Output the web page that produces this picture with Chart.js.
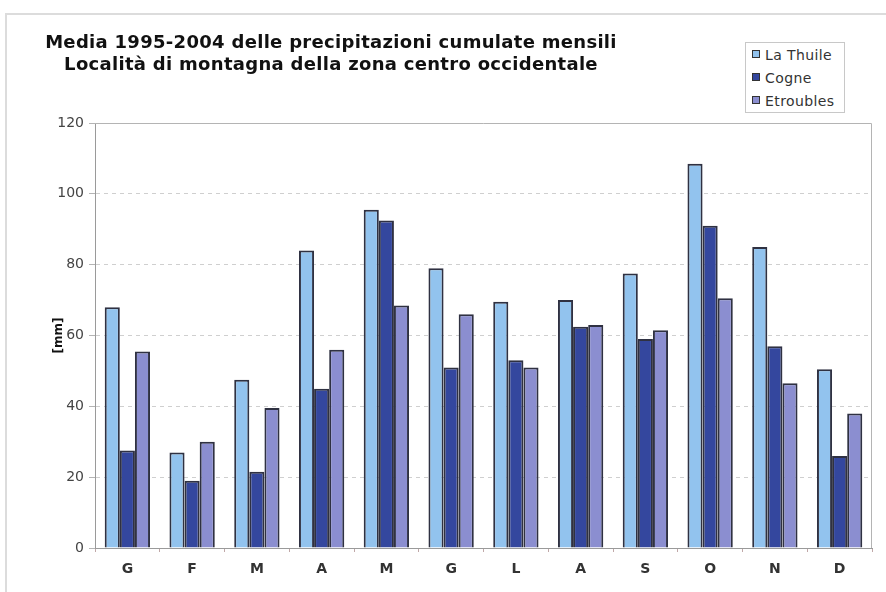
<!DOCTYPE html>
<html>
<head>
<meta charset="utf-8">
<script src="https://cdn.jsdelivr.net/npm/chart.js@4.4.0/dist/chart.umd.min.js"></script>
<style>
  body { margin: 0; background: #fff; }
  #wrap { position: relative; width: 886px; height: 592px; overflow: hidden; font-family: "DejaVu Sans", sans-serif; }
  #frame { position: absolute; left: 5px; top: 13px; width: 900px; height: 600px; border: 2px solid #dcdcdc; }
  #title { position: absolute; left: 31px; top: 31px; width: 600px; text-align: center; font-weight: bold; font-size: 18px; letter-spacing: 0.3px; line-height: 22px; color: #111; white-space: nowrap; }
  #legend { position: absolute; left: 745px; top: 42px; width: 98px; height: 69px; border: 1px solid #c8c8c8; background: #fff; font-size: 14px; letter-spacing: 0.4px; color: #333; }
  .item { position: absolute; left: 6px; height: 18px; line-height: 18px; white-space: nowrap; }
  .sw { display: inline-block; width: 6px; height: 6px; border: 1px solid #333; margin-right: 5px; vertical-align: 2px; }
  canvas { position: absolute; left: 0; top: 0; }
</style>
</head>
<body>
<div id="wrap">
  <div id="frame"></div>
  <canvas id="chart" width="886" height="592"></canvas>
  <div id="title">Media 1995-2004 delle precipitazioni cumulate mensili<br>Località di montagna della zona centro occidentale</div>
  <div id="legend"></div>
</div>
<script>
const months = ["G", "F", "M", "A", "M", "G", "L", "A", "S", "O", "N", "D"];
const seriesNames = ["La Thuile", "Cogne", "Etroubles"];
const laThuile = [68, 27, 47.5, 84, 95.5, 79, 69.5, 70, 77.5, 108.5, 85, 50.5];
const cogne = [27.5, 19, 21.5, 45, 92.5, 51, 53, 62.5, 59, 91, 57, 26];
const etroubles = [55.5, 30, 39.5, 56, 68.5, 66, 51, 63, 61.5, 70.5, 46.5, 38];
const seriesColors = ["#92c3ee", "#34479e", "#8b8ed0"];
const yTicks = [0, 20, 40, 60, 80, 100, 120];

// legend as real text
const legendEl = document.getElementById("legend");
legendEl.innerHTML = seriesNames.map((n, i) =>
  `<div class="item" style="top:${3 + i * 23}px"><span class="sw" style="background:${seriesColors[i]}"></span>${n}</div>`
).join("");

// solid top/right border of the plot area
const plotFrame = {
  id: "plotFrame",
  afterDraw(chart) {
    const a = chart.chartArea, ctx = chart.ctx;
    ctx.save();
    ctx.strokeStyle = "#b4b4b4";
    ctx.lineWidth = 1;
    ctx.beginPath();
    ctx.moveTo(a.left, a.top + 0.5);
    ctx.lineTo(a.right - 0.5, a.top + 0.5);
    ctx.lineTo(a.right - 0.5, a.bottom);
    ctx.stroke();
    ctx.restore();
  }
};

const data = [laThuile, cogne, etroubles];

new Chart(document.getElementById("chart"), {
  type: "bar",
  data: {
    labels: months,
    datasets: data.map((d, i) => ({
      label: seriesNames[i],
      data: d,
      backgroundColor: seriesColors[i],
      borderColor: "#2f3142",
      borderWidth: 2,
      categoryPercentage: 0.7,
      barPercentage: 1.0
    }))
  },
  options: {
    responsive: false,
    animation: false,
    devicePixelRatio: 1,
    layout: { padding: { top: 123, right: 14, left: 50, bottom: 0 } },
    plugins: { legend: { display: false }, tooltip: { enabled: false } },
    scales: {
      x: {
        grid: { display: true, drawOnChartArea: false, offset: true, tickLength: 4, color: "#c0a8a8" },
        border: { color: "#9a9a9a" },
        ticks: { color: "#333", padding: 9, font: { family: "DejaVu Sans", size: 14, weight: "bold" } },
        afterFit: s => { s.height = 44; }
      },
      y: {
        min: 0,
        max: 120,
        afterBuildTicks: s => { s.ticks = yTicks.map(v => ({ value: v })); },
        grid: {
          color: c => (c.tick && (c.tick.value === 0 || c.tick.value === 120)) ? "rgba(0,0,0,0)" : "#cfcfcf",
          tickLength: 6,
          tickColor: "#b4b4b4"
        },
        border: { color: "#9a9a9a", dash: [4, 4] },
        ticks: { color: "#444", padding: 5, font: { family: "DejaVu Sans", size: 14 } },
        title: { display: true, text: "[mm]", color: "#111", padding: { top: 2, bottom: 2 }, font: { family: "DejaVu Sans", size: 12, weight: "bold" } },
        afterFit: s => { s.width = 45; }
      }
    }
  },
  plugins: [plotFrame]
});
</script>
</body>
</html>
